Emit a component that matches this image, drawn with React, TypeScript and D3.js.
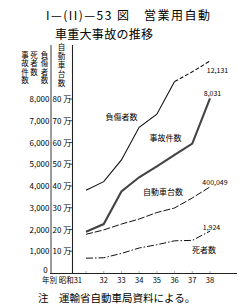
import React from "react";
import * as d3 from "d3";

// 昭和31〜38年
const years = [31, 32, 33, 34, 35, 36, 37, 38];
const injured = [3800, 4200, 5200, 6700, 7300, 8800, 9250, 9750];
// 事故件数
const accidents = [1900, 2250, 3750, 4400, 4900, 5430, 5950, 8031];
// 自動車台数 (万台)
const vehicles = [17.8, 19.8, 22.5, 24.8, 27.8, 29.9, 34.5, 39.6];
// 死者数
const deaths = [680, 700, 900, 1150, 1300, 1480, 1500, 1924];

const leftTicks = [1000, 2000, 3000, 4000, 5000, 6000, 7000, 8000];
const rightTicks = [10, 20, 30, 40, 50, 60, 70, 80];

const endLabels = ["12,131", "8,031", "400,049", "1,924"];
const headers = ["事故件数", "死者数", "負傷者数"];
const headerRight = "自動車台数";

const font = "'Noto Sans CJK JP', 'DejaVu Sans', sans-serif";

export default class App extends React.Component {
  protected ref = React.createRef<SVGSVGElement>();

  componentDidMount() {
    this.build();
  }

  build() {
    const svg = d3.select(this.ref.current);
    svg.selectAll("*").remove();

    const x = d3.scaleLinear().domain([31, 38]).range([86, 210]);
    const y = d3.scaleLinear().domain([0, 8000]).range([273, 99]);
    const y2 = d3.scaleLinear().domain([0, 80]).range([273, 99]);

    svg.append("rect").attr("width", 244).attr("height", 308).attr("fill", "#fff");

    // title
    svg.append("text")
      .attr("x", 46).attr("y", 20)
      .attr("textLength", 164).attr("lengthAdjust", "spacing")
      .style("font-family", font).style("font-size", "12px")
      .text("I—(II)—53 図　営業用自動");
    svg.append("text")
      .attr("x", 55).attr("y", 38.5)
      .attr("textLength", 98).attr("lengthAdjust", "spacing")
      .style("font-family", font).style("font-size", "12px")
      .text("車重大事故の推移");

    // vertical header columns, written top to bottom
    const vertical = (s: string, cx: number, top: number, gap: number) => {
      svg.append("text")
        .attr("x", cx).attr("y", top)
        .style("writing-mode", "vertical-rl")
        .style("letter-spacing", gap + "px")
        .style("font-family", font).style("font-size", "7.5px")
        .text(s);
    };
    vertical(headers[0], 25, 51, 1.1);
    vertical(headers[1], 34, 51, 1.1);
    vertical(headers[2], 44.5, 51, 1.1);
    vertical(headerRight, 61.5, 43.5, 1.5);

    // frame lines
    svg.append("line").attr("x1", 51).attr("x2", 51).attr("y1", 45).attr("y2", 273)
      .attr("stroke", "#222").attr("stroke-width", 0.9);
    svg.append("line").attr("x1", 72.5).attr("x2", 72.5).attr("y1", 45).attr("y2", 273)
      .attr("stroke", "#222").attr("stroke-width", 1.1);
    svg.append("line").attr("x1", 50).attr("x2", 237).attr("y1", 273.5).attr("y2", 273.5)
      .attr("stroke", "#222").attr("stroke-width", 1.1);

    // left scale
    leftTicks.forEach(t => {
      svg.append("text")
        .attr("x", 49.5).attr("y", y(t) + 3)
        .attr("text-anchor", "end")
        .style("font-family", font).style("font-size", "8px")
        .text(d3.format(",")(t));
    });
    rightTicks.forEach(t => {
      svg.append("text")
        .attr("x", 52.5).attr("y", y2(t) + 3)
        .style("font-family", font).style("font-size", "8px")
        .text(t + " 万");
      svg.append("line")
        .attr("x1", 69.5).attr("x2", 72.5)
        .attr("y1", y2(t)).attr("y2", y2(t))
        .attr("stroke", "#222").attr("stroke-width", 0.8);
    });
    svg.append("text")
      .attr("x", 45.5).attr("y", 273)
      .attr("text-anchor", "middle")
      .style("font-family", font).style("font-size", "8px")
      .text("0");

    // x axis
    years.forEach(yr => {
      svg.append("line")
        .attr("x1", x(yr)).attr("x2", x(yr))
        .attr("y1", 273).attr("y2", 271)
        .attr("stroke", "#999").attr("stroke-width", 0.8);
      svg.append("text")
        .attr("x", x(yr) + (yr === 31 ? -4 : 0)).attr("y", 283)
        .attr("text-anchor", yr === 31 ? "end" : "middle")
        .style("font-family", font).style("font-size", "7.5px")
        .text(yr === 31 ? "年別 昭和31" : String(yr));
    });

    const line = d3.line<number>().x((d, i) => x(years[i]));

    // 負傷者数: solid to 36, dashed after
    const injuredLine = d3.line<[number, number]>().x(d => x(d[0])).y(d => y(d[1]));
    const injPts = years.map((yr, i) => [yr, injured[i]] as [number, number]);
    svg.append("path")
      .attr("d", injuredLine(injPts.slice(0, 6)))
      .attr("fill", "none").attr("stroke", "#111").attr("stroke-width", 1.1);
    svg.append("path")
      .attr("d", injuredLine(injPts.slice(5)))
      .attr("fill", "none").attr("stroke", "#111").attr("stroke-width", 1.1)
      .attr("stroke-dasharray", "4,2");

    // 事故件数
    svg.append("path")
      .attr("d", line.y(d => y(d))(accidents))
      .attr("fill", "none").attr("stroke", "#444").attr("stroke-width", 2.1);

    // 自動車台数
    svg.append("path")
      .attr("d", line.y(d => y2(d))(vehicles))
      .attr("fill", "none").attr("stroke", "#111").attr("stroke-width", 1)
      .attr("stroke-dasharray", "7,2");

    // 死者数
    svg.append("path")
      .attr("d", line.y(d => y(d))(deaths))
      .attr("fill", "none").attr("stroke", "#111").attr("stroke-width", 1)
      .attr("stroke-dasharray", "7,2,1.5,2");

    // series names
    const names: [string, number, number][] = [
      ["負傷者数", 121.5, 119.5],
      ["事故件数", 165.5, 141],
      ["自動車台数", 163, 194.5],
      ["死者数", 204, 253],
    ];
    names.forEach(([t, nx, ny]) => {
      svg.append("text")
        .attr("x", nx).attr("y", ny)
        .attr("text-anchor", "middle")
        .style("font-family", font).style("font-size", "8px")
        .text(t);
    });

    // end values
    const ends: [number, number][] = [[217.5, 73], [212.5, 96], [215, 184.5], [211.5, 229.5]];
    endLabels.forEach((t, i) => {
      svg.append("text")
        .attr("x", ends[i][0]).attr("y", ends[i][1])
        .attr("text-anchor", "middle")
        .style("font-family", font).style("font-size", "7px")
        .text(t);
    });

    // note
    svg.append("text")
      .attr("x", 38).attr("y", 302)
      .style("font-family", font).style("font-size", "10.5px")
      .text("注　運輸省自動車局資料による。");
  }

  render() {
    return (
      <div style={{ position: "fixed", left: 0, top: 0 }}>
        <svg ref={this.ref} width={244} height={308} style={{ display: "block" }} />
      </div>
    );
  }
}
